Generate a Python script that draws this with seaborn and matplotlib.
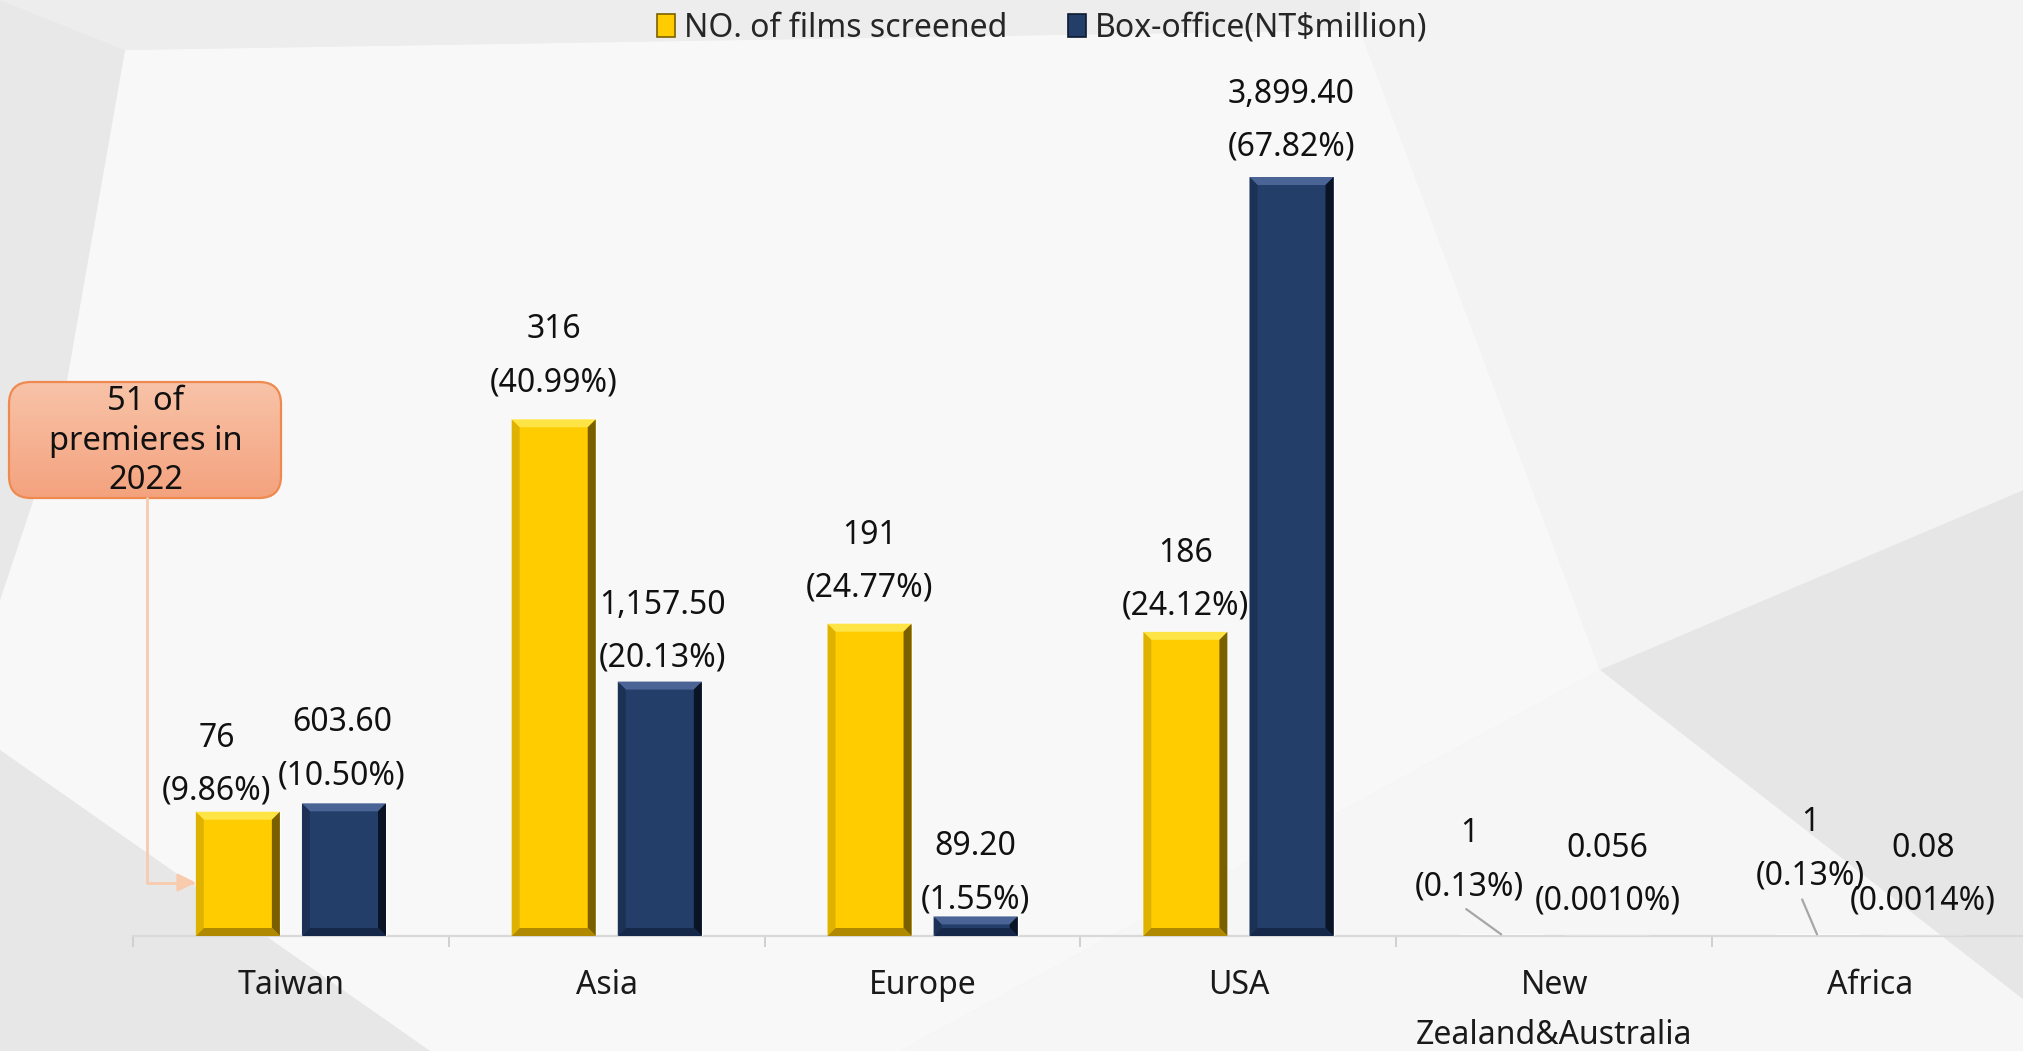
import numpy as np
import pandas as pd
import matplotlib
matplotlib.use("Agg")
import matplotlib.pyplot as plt
import matplotlib.patches as mpatches
import matplotlib.transforms as mtransforms
from matplotlib.colors import LinearSegmentedColormap
import seaborn as sns

# ---- data ----
regions = ["Taiwan", "Asia", "Europe", "USA", "New\nZealand&Australia", "Africa"]
films = [76, 316, 191, 186, 1, 1]
films_share = ["9.86%", "40.99%", "24.77%", "24.12%", "0.13%", "0.13%"]
box_office = [603.60, 1157.50, 89.20, 3899.40, 0.056, 0.08]
box_text = ["603.60", "1,157.50", "89.20", "3,899.40", "0.056", "0.08"]
box_share = ["10.50%", "20.13%", "1.55%", "67.82%", "0.0010%", "0.0014%"]
series = ["NO. of films screened", "Box-office(NT$million)"]
note = "51 of\npremieres in\n2022"

# ---- style ----
W, H = 2024, 1051
YELLOW, BLUE = "#FFCC00", "#243E6A"
FS = 23
LS = 1.8
# label nudges in pixels (dx, dy) relative to the default spot above each bar
films_nudge = [(-21, -8), (0, 8), (0, 7), (0, -3), (-32, 19), (-7, 30)]
box_nudge = [(-2, -1), (3, -5), (0, -12), (0, 1), (0, 6), (0, 6)]

sns.set_theme(style="white")
plt.rcParams["font.family"] = ["Noto Sans", "DejaVu Sans"]

fig = plt.figure(figsize=(W / 100, H / 100), dpi=100)

# background facets (pixel coords, y down)
bg = fig.add_axes([0, 0, 1, 1], zorder=0)
bg.axis("off")
bg.add_patch(mpatches.Rectangle((0, 0), W, H, color="#f0f0f0"))
facets = [
    ("#f8f8f8", [(125, 50), (1360, 30), (1600, 670), (900, 1051), (430, 1051), (0, 750), (0, 600), (60, 420)]),
    ("#e8e8e8", [(0, 0), (125, 50), (60, 420), (0, 600)]),
    ("#ededed", [(0, 0), (1360, 0), (1360, 30), (125, 50)]),
    ("#f3f3f3", [(1360, 0), (2024, 0), (2024, 490), (1600, 670), (1360, 30)]),
    ("#e6e6e6", [(1600, 670), (2024, 490), (2024, 1000)]),
    ("#f6f6f6", [(1600, 670), (2024, 1000), (2024, 1051), (900, 1051)]),
    ("#e7e7e7", [(0, 750), (430, 1051), (0, 1051)]),
]
for col, pts in facets:
    bg.add_patch(mpatches.Polygon(pts, closed=True, color=col, lw=0))

# callout box with gradient
box = mpatches.FancyBboxPatch((9, 382), 272, 116, boxstyle="round,pad=0,rounding_size=22",
                              fc="none", ec="#EE8A50", lw=1.6, zorder=3)
bg.add_patch(box)
grad = LinearSegmentedColormap.from_list("g", ["#F8C3A8", "#F4A27E"])
im = bg.imshow(np.linspace(0, 1, 100).reshape(-1, 1), cmap=grad, extent=(9, 281, 498, 382),
               aspect="auto", zorder=2)
im.set_clip_path(box)
bg.text(146, 441, note, ha="center", va="center", fontsize=23.5, linespacing=1.25,
        color="#111111", zorder=4)
bg.set_xlim(0, W)
bg.set_ylim(H, 0)

# ---- main chart ----
ax = fig.add_axes([133 / W, 1 - 936 / H, 1895 / W, 759 / H], zorder=2)
ax.patch.set_alpha(0)
ax2 = ax.twinx()
ax2.set_zorder(2)
ax2.patch.set_alpha(0)

pal = {series[0]: YELLOW, series[1]: BLUE}
df_f = pd.DataFrame({"region": regions, "value": films, "series": series[0]})
df_b = pd.DataFrame({"region": regions, "value": box_office, "series": series[1]})
for d, a in [(df_f, ax), (df_b, ax2)]:
    sns.barplot(data=d, x="region", y="value", hue="series", hue_order=series, order=regions,
                palette=pal, width=0.672, gap=0.208, dodge=True, saturation=1,
                errorbar=None, legend=False, ax=a)

ax.set_xlim(-0.5, 5.5)
ax.set_ylim(0, 464.2)
ax2.set_ylim(0, 3453)
for a in (ax, ax2):
    a.set_xlabel("")
    a.set_ylabel("")
    a.set_yticks([])
    for s in a.spines.values():
        s.set_visible(False)
ax.spines["bottom"].set_visible(True)
ax.spines["bottom"].set_color("#d9d9d9")
ax.spines["bottom"].set_linewidth(1.6)

ax.set_xticks(range(len(regions)))
ax.set_xticklabels(regions, fontsize=FS, color="#1a1a1a", linespacing=1.65)
ax.set_xticks(np.arange(-0.5, len(regions), 1), minor=True)
ax.tick_params(axis="x", which="major", length=0, pad=24)
ax.tick_params(axis="x", which="minor", bottom=True, length=8, width=1.4, color="#d0d0d0")


def bars_of(a):
    ps = [p for p in a.patches if isinstance(p, mpatches.Rectangle) and np.isfinite(p.get_height())]
    return sorted(ps, key=lambda p: p.get_x())


f_bars = bars_of(ax)
b_bars = bars_of(ax2)

for i, p in enumerate(f_bars):
    cx = p.get_x() + p.get_width() / 2
    dx, dy = films_nudge[i]
    kw = {}
    if films[i] < 5:
        kw["arrowprops"] = dict(arrowstyle="-", color="#a6a6a6", lw=1.6, relpos=(0.4, 0.0),
                                shrinkA=3, shrinkB=0)
    ax.annotate(f"{films[i]}\n({films_share[i]})", xy=(cx, p.get_height()), xytext=(dx, 12 + dy),
                textcoords="offset pixels", ha="center", va="bottom", fontsize=FS,
                linespacing=LS, color="#111111", annotation_clip=False, **kw)

ytop2 = ax2.get_ylim()[1]
for i, p in enumerate(b_bars):
    cx = p.get_x() + p.get_width() / 2
    dx, dy = box_nudge[i]
    ax2.annotate(f"{box_text[i]}\n({box_share[i]})", xy=(cx, min(p.get_height(), ytop2)),
                 xytext=(dx, 12 + dy), textcoords="offset pixels", ha="center", va="bottom",
                 fontsize=FS, linespacing=LS, color="#111111", annotation_clip=False)

# connector from callout to the Taiwan bar
p0 = f_bars[0]
ax.annotate("", xy=(p0.get_x(), 0.43 * p0.get_height()), xycoords="data",
            xytext=(147, H - 498), textcoords="figure pixels",
            arrowprops=dict(arrowstyle="-|>,head_length=0.9,head_width=0.45", color="#F8CBAD", lw=2,
                            connectionstyle="angle,angleA=90,angleB=0,rad=0", shrinkA=0, shrinkB=0),
            annotation_clip=False)

# legend
handles = [mpatches.Patch(facecolor=pal[s], edgecolor="#7a6000" if s == series[0] else "#0e1a2e", lw=1.2)
           for s in series]
fig.legend(handles, series, loc="center", bbox_to_anchor=(0.515, 0.973), ncol=2, frameon=False,
           fontsize=FS, handlelength=0.55, handleheight=0.75, handletextpad=0.3, columnspacing=1.9)

# bevel on bars
fig.canvas.draw()
ident = mtransforms.IdentityTransform()
shade = {YELLOW: ("#FFE445", "#E0B200", "#7A5F00", "#B08900"),
         BLUE: ("#4A6496", "#1B3156", "#0A1424", "#15284A")}
for bars, a, col in [(f_bars, ax, YELLOW), (b_bars, ax2, BLUE)]:
    for p in bars:
        bb = p.get_window_extent()
        x0, x1 = bb.x0, bb.x1
        y0, y1 = bb.y0, min(bb.y1, a.bbox.y1)
        if y1 - y0 < 6:
            continue
        b = min(8, (y1 - y0) / 2)
        top, left, right, bot = shade[col]
        polys = [
            (top, [(x0, y1), (x1, y1), (x1 - b, y1 - b), (x0 + b, y1 - b)]),
            (left, [(x0, y0), (x0, y1), (x0 + b, y1 - b), (x0 + b, y0 + b)]),
            (right, [(x1, y1), (x1, y0), (x1 - b, y0 + b), (x1 - b, y1 - b)]),
            (bot, [(x0, y0), (x1, y0), (x1 - b, y0 + b), (x0 + b, y0 + b)]),
        ]
        for c, pts in polys:
            poly = mpatches.Polygon(pts, closed=True, fc=c, ec="none", transform=ident, zorder=3)
            fig.add_artist(poly)

fig.savefig("out.png", dpi=100)
